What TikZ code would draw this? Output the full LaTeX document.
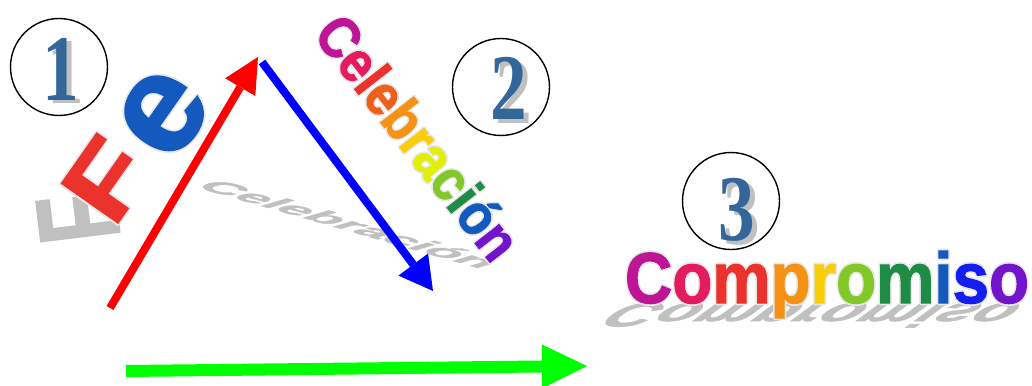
\documentclass[tikz,border=0pt]{standalone}
\usepackage{fontspec}
\usepackage{contour}
\usetikzlibrary{arrows.meta}
\newfontfamily\artfont{Liberation Sans}[BoldFeatures={FakeBold=1.6}]
\newfontfamily\numfont{Liberation Serif}
\definecolor{numblue}{RGB}{51,102,153}
\definecolor{shade}{RGB}{192,192,192}
\definecolor{halo}{RGB}{232,232,232}
\definecolor{rbA}{RGB}{190,20,150}
\definecolor{rbB}{RGB}{228,28,95}
\definecolor{rbC}{RGB}{235,50,45}
\definecolor{rbD}{RGB}{240,95,25}
\definecolor{rbE}{RGB}{245,145,20}
\definecolor{rbF}{RGB}{250,205,10}
\definecolor{rbG}{RGB}{225,240,0}
\definecolor{rbH}{RGB}{130,200,40}
\definecolor{rbI}{RGB}{30,140,70}
\definecolor{rbJ}{RGB}{20,90,190}
\definecolor{rbK}{RGB}{20,30,240}
\definecolor{rbL}{RGB}{115,20,205}
\contourlength{1.6pt}
\newcommand\wl[2]{\textcolor{#1}{\contour{halo}{#2}}}
\newcommand\numero[4]{%
  \node[numshade] (#1s) at ({#2+5},{#3-4}) {#4};
  \node[numtext] (#1) at (#2,#3) {#4};}
\tikzset{
  numring/.style={draw,circle,line width=1.4pt,minimum size=97pt,inner sep=0pt},
  numtext/.style={font={\numfont\bfseries\fontsize{94}{94}\selectfont},text=numblue,xscale=.78,inner sep=0pt,anchor=base},
  numshade/.style={numtext,text=shade},
  arttext/.style={font={\artfont\bfseries\fontsize{#1}{#1}\selectfont},inner sep=0pt},
  fatarrow/.style={line width=#1},
}
\begin{document}
\begin{tikzpicture}[x=1pt,y=1pt]
\useasboundingbox (0,0) rectangle (1032,-385);
% shadows
\node[arttext=100,text=shade,rotate=97,yscale=1.15,xscale=.8] (fshade) at (78,-218) {F};
\node[arttext=52,text=shade,rotate=-16,yscale=.38,xslant=.6] (celshade) at (350,-224) {Celebración};
\node[arttext=71,text=shade,xscale=.92,yscale=-.48,xslant=-.7,anchor=base] (compshade) at (827,-303) {Compromiso};
% rings
\node[numring] (ring1) at (59,-67) {};
\node[numring] (ring2) at (501,-87) {};
\node[numring] (ring3) at (731,-201) {};
\numero{num1}{61}{-100}{1}
\numero{num2}{509}{-120}{2}
\numero{num3}{737}{-240}{3}
% arrows
\coordinate (redfoot) at (110,-308);
\coordinate (redtip) at (258,-57);
\coordinate (bluefoot) at (262,-62);
\coordinate (bluetip) at (433,-291);
\coordinate (greenfoot) at (126,-371);
\coordinate (greentip) at (587,-366);
\draw[fatarrow=8pt,red,-{Triangle[length=35pt,width=35pt,line width=0pt]}] (redfoot) -- (redtip);
\draw[fatarrow=8pt,blue,-{Triangle[length=33pt,width=37pt,line width=0pt]}] (bluefoot) -- (bluetip);
\draw[fatarrow=12pt,green,-{Triangle[length=45pt,width=44pt,line width=0pt]}] (greenfoot) -- (greentip);
% words
\node[arttext=100,rotate=55,xscale=1.2] (fF) at (107,-180) {\wl{rbC}{F}};
\node[arttext=140,rotate=55] (fe) at (164,-114) {\wl{rbJ}{e}};
\node[arttext=58,rotate=-52,xscale=.88,anchor=base] (cel) at (402,-150)
  {\wl{rbA}{C}\wl{rbB}{e}\wl{rbC}{l}\wl{rbD}{e}\wl{rbE}{b}\wl{rbF}{r}\wl{rbG}{a}\wl{rbH}{c}\wl{rbI}{i}\wl{rbJ}{ó}\wl{rbL}{n}};
\node[arttext=72,xscale=.91,anchor=base] (comp) at (827,-303)
  {\wl{rbA}{C}\wl{rbB}{o}\wl{rbC}{m}\wl{rbE}{p}\wl{rbF}{r}\wl{rbH}{o}\wl{rbI}{m}\wl{rbJ}{i}\wl{rbK}{s}\wl{rbL}{o}};
\end{tikzpicture}
\end{document}
